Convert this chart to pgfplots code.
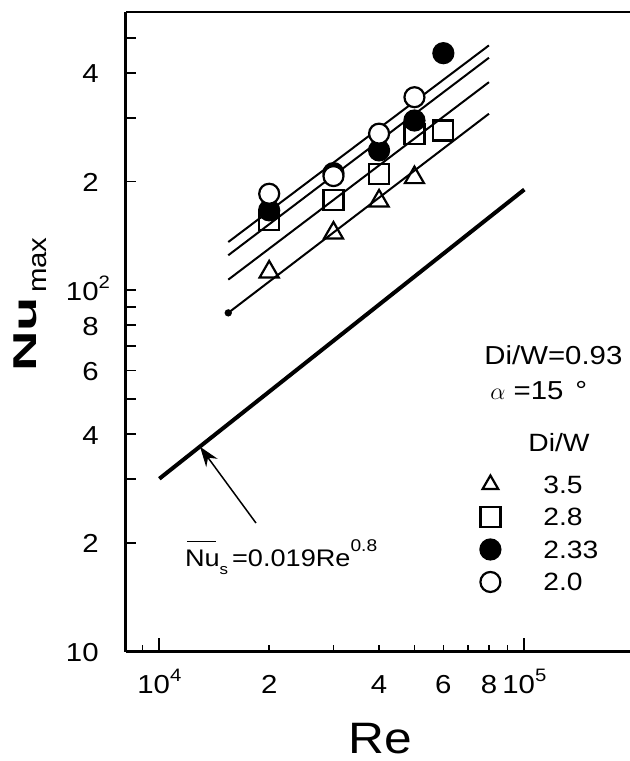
\documentclass[border=0pt]{standalone}
\usepackage{fontspec}
\setmainfont{Liberation Sans}[FakeStretch=1.13]
\newfontfamily\nufont{Liberation Sans}[FakeStretch=1.7]
\usepackage{pgfplots}
\pgfplotsset{compat=1.18}
\usetikzlibrary{arrows.meta}
\newcommand{\sups}[1]{\raisebox{6pt}{\fontsize{9}{9}\selectfont #1}}
\begin{document}
\begin{tikzpicture}
\useasboundingbox (0,0) rectangle (315pt,380.5pt);
\begin{axis}[
  at={(62.75pt,54.65pt)}, anchor=south west,
  scale only axis, width=252.25pt, height=320pt,
  xmode=log, ymode=log,
  xmin=8080, xmax=194800, ymin=10, ymax=590,
  axis lines*=left,
  axis line style={line width=1.3pt},
  tick align=inside,
  tick style={black, line width=0.85pt},
  major tick length=6.7pt, minor tick length=3.3pt,
  xtick={10000,100000},
  xticklabels={10\sups{4},10\sups{5}},
  minor xtick={9000,30000,50000,70000,90000},
  extra x ticks={20000,40000,60000,80000},
  extra x tick labels={2,4,6,8},
  extra x tick style={/pgfplots/major tick length=3.3pt},
  ytick={10,20,30,40,50,60,70,80,90,100,200,300,400,500},
  yticklabels={10,2,,4,,6,,8,,10\rlap{\sups{2}},2,,4,},
  ytick style={/pgfplots/major tick length=5.3pt},
  ticklabel style={font=\fontsize{13}{15}\selectfont},
  xticklabel style={anchor=base, inner sep=0pt, yshift=-21.15pt},
  yticklabel style={anchor=base east, inner sep=0pt, xshift=-13.25pt, yshift=-5pt},
  legend image code/.code={\path[draw=none, fill=none] (-6pt,-1pt) rectangle (6pt,1pt); \draw[#1] plot coordinates {(0pt,0pt)};},
  legend cell align=left,
  legend style={draw=none, fill=none, inner sep=0pt,
    at={(0.6987,0.2873)}, anchor=north west,
    font=\fontsize{12.5}{14}\selectfont,
    row sep=0pt, column sep=17.5pt,
    /tikz/every odd column/.append style={column sep=20.5pt},
    nodes={inner sep=0pt, text height=8.9pt, text depth=0pt, minimum height=16.25pt}},
]
% fitted lines
\addplot[forget plot, black, line width=1pt] coordinates {(15450,136) (80000,476)};
\addplot[forget plot, black, line width=1pt] coordinates {(15450,125) (80000,440)};
\addplot[forget plot, black, line width=1pt] coordinates {(15450,107) (80000,376.6)};
\addplot[forget plot, black, line width=1pt, mark=*, mark size=1.3pt, mark indices={1}] coordinates {(15450,86.6) (80000,308)};
% Nu_s correlation
\addplot[forget plot, black, line width=2pt] coordinates {(10000,30.1) (100000,190)};
% data
\addplot[forget plot, only marks, mark=triangle, mark size=5.5pt, mark options={black, line width=1.1pt, fill=white}]
  coordinates {(20000,112.4) (30000,144) (40000,176.7) (50000,205)};
\addplot[forget plot, only marks, mark=*, mark size=5pt, mark options={black, line width=1.1pt, fill=black}]
  coordinates {(20000,166.4) (30000,211) (40000,243.8) (50000,295) (60000,453)};
\addplot[forget plot, only marks, mark=square, mark size=5pt, mark options={black, line width=1.1pt, fill=white}]
  coordinates {(20000,156.1) (30000,178.1) (40000,209.3) (50000,270) (60000,276.9)};
\addplot[forget plot, only marks, mark=*, mark size=5pt, mark options={black, line width=1.1pt, fill=white}]
  coordinates {(20000,185) (30000,207) (40000,271.3) (50000,342.2)};
% legend
\addlegendimage{only marks, mark=triangle, mark size=4.5pt, mark options={black, line width=1.1pt, fill=white}}
\addlegendentry{3.5}
\addlegendimage{only marks, mark=square, mark size=5pt, mark options={black, line width=1.1pt, fill=white}}
\addlegendentry{2.8}
\addlegendimage{only marks, mark=*, mark size=5pt, mark options={black, line width=1.1pt, fill=black}}
\addlegendentry{2.33}
\addlegendimage{only marks, mark=*, mark size=5pt, mark options={black, line width=1.1pt, fill=white}}
\addlegendentry{2.0}
% top frame line
\draw[line width=1.3pt] (rel axis cs:0,1) -- (rel axis cs:1,1);
% arrow
\draw[line width=0.75pt, -{Stealth[length=10pt, width=7pt]}] (axis cs:18400,22.7) -- (axis cs:12930,36.9);
\end{axis}
% axis labels
\node[rotate=90, anchor=base west, inner sep=0pt] at (18.35pt,194.5pt)
  {\nufont\bfseries\fontsize{16.5}{18}\selectfont Nu\hspace{2pt}\raisebox{-5pt}{\normalfont\fontsize{13}{15}\selectfont max}};
\node[anchor=base, inner sep=0pt] at (190pt,3.85pt) {\fontsize{22}{24}\selectfont Re};
% annotations
\node[anchor=base west, inner sep=0pt] at (92.3pt,97.15pt)
  {\fontsize{12}{14}\selectfont\makebox[0pt][l]{\hspace{1pt}\rule[12.2pt]{14.5pt}{0.7pt}}Nu\raisebox{-4pt}{\fontsize{7.5}{8}\selectfont s}\,=0.019Re\raisebox{7.5pt}{\fontsize{8.5}{9}\selectfont 0.8}};
\node[anchor=base west, inner sep=0pt] at (242pt,198pt) {\fontsize{13}{14}\selectfont Di/W=0.93};
\node[anchor=base west, inner sep=0pt] at (245pt,180.5pt) {\fontsize{13}{14}\selectfont $\alpha$ =15\hspace{6pt}°};
\node[anchor=base west, inner sep=0pt] at (264pt,154.65pt) {\fontsize{12.5}{14}\selectfont Di/W};
\end{tikzpicture}
\end{document}
